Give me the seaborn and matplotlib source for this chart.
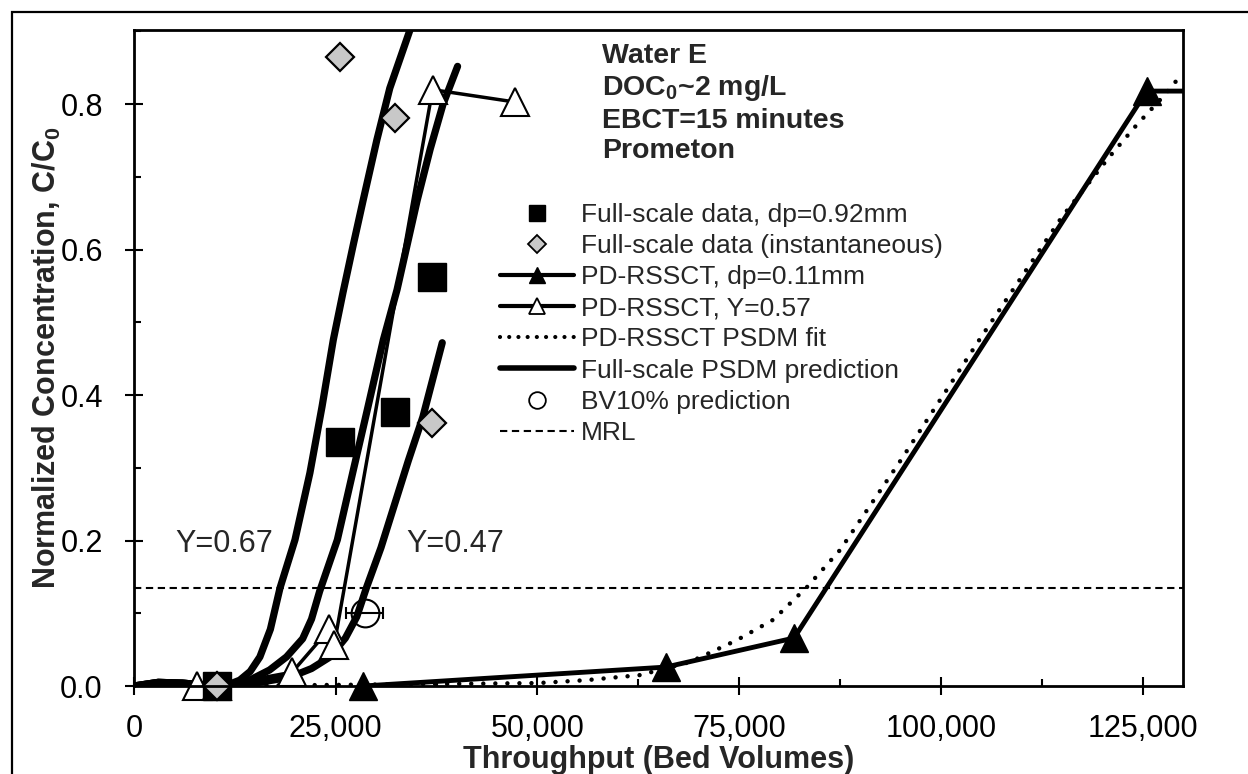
import numpy as np
import pandas as pd
import matplotlib
matplotlib.use("Agg")
import matplotlib.pyplot as plt
import seaborn as sns
from matplotlib.lines import Line2D
from matplotlib.patches import Rectangle
from matplotlib.ticker import FuncFormatter, MultipleLocator

# ---------------- data ----------------
fs_bv = [10300, 25500, 32300, 36900]
fs_c = [0.0, 0.336, 0.377, 0.563]
fs_inst_c = [0.0, 0.865, 0.781, 0.362]

rssct_bv = [28400, 65900, 81800, 125500, 140000]
rssct_c = [0.0, 0.026, 0.066, 0.818, 0.818]

rssct57_bv = [7800, 10300, 19600, 24200, 24800, 37000, 47200]
rssct57_c = [0.0, 0.0, 0.019, 0.078, 0.056, 0.820, 0.803]

fit_bv = [0, 20000, 40000, 50000, 56000, 62700, 68900, 74700, 79200, 83400,
          87500, 95000, 105000, 115000, 120900, 124300, 127500, 130000]
fit_c = [0.0, 0.001, 0.003, 0.004, 0.008, 0.015, 0.033, 0.063, 0.091, 0.136,
         0.187, 0.31, 0.48, 0.645, 0.728, 0.772, 0.81, 0.843]

pred67_bv = [0, 3000, 6000, 9000, 11500, 13100, 14400, 15600, 16900, 18100,
             19950, 21800, 23300, 24700, 25900, 27200, 28400, 30100, 31700, 34200]
pred67_c = [0.0, 0.005, 0.004, 0.001, 0.001, 0.008, 0.020, 0.040, 0.078, 0.135,
            0.201, 0.293, 0.384, 0.476, 0.541, 0.608, 0.668, 0.751, 0.822, 0.902]

pred57_bv = [0, 3000, 6000, 9000, 12000, 14500, 16800, 18900, 20900, 22000,
             23000, 25200, 27100, 29000, 30900, 32600, 35100, 36700, 38300, 40100]
pred57_c = [0.0, 0.005, 0.004, 0.001, 0.002, 0.009, 0.022, 0.040, 0.065, 0.092,
            0.130, 0.201, 0.293, 0.384, 0.476, 0.545, 0.668, 0.738, 0.800, 0.852]

pred47_bv = [0, 3000, 6000, 9000, 12000, 15000, 19300, 22000, 24300, 26200,
             27600, 28800, 30600, 32300, 34000, 35800, 38200]
pred47_c = [0.0, 0.005, 0.004, 0.001, 0.002, 0.004, 0.012, 0.024, 0.040, 0.066,
            0.095, 0.135, 0.190, 0.250, 0.310, 0.370, 0.472]

bv10_bv = [28600]
bv10_c = [0.100]
bv10_err = [2300]

mrl = 0.135

legend_labels = ["Full-scale data, dp=0.92mm", "Full-scale data (instantaneous)",
                 "PD-RSSCT, dp=0.11mm", "PD-RSSCT, Y=0.57", "PD-RSSCT PSDM fit",
                 "Full-scale PSDM prediction", "BV10% prediction", "MRL"]

# ---------------- style ----------------
sns.set_theme(style="ticks")
plt.rcParams["font.family"] = ["Liberation Sans", "DejaVu Sans"]
plt.rcParams["mathtext.fontset"] = "custom"
plt.rcParams["mathtext.rm"] = "Liberation Sans"
plt.rcParams["mathtext.bf"] = "Liberation Sans:bold"
plt.rcParams["mathtext.it"] = "Liberation Sans:italic"

fig = plt.figure(figsize=(12.48, 7.74), dpi=100)
ax = fig.add_axes([134 / 1248, 1 - 686 / 774, (1183 - 134) / 1248, (686 - 30) / 774])

# outer frame (left & top visible)
fig.add_artist(Rectangle((12 / 1248, -0.2), 1.5, 1.2 - 12 / 774,
                         transform=fig.transFigure, fill=False, lw=1.6,
                         edgecolor="black"))

# MRL
ax.axhline(mrl, color="black", lw=1.5, ls=(0, (3.5, 2.2)), zorder=1)

# PSDM predictions
for bv, c in [(pred67_bv, pred67_c), (pred57_bv, pred57_c), (pred47_bv, pred47_c)]:
    df = pd.DataFrame({"bv": bv, "c": c})
    sns.lineplot(data=df, x="bv", y="c", ax=ax, color="black", lw=5.2,
                 sort=False, estimator=None, solid_capstyle="round",
                 solid_joinstyle="round", zorder=3)

# PD-RSSCT PSDM fit
df_fit = pd.DataFrame({"bv": fit_bv, "c": fit_c})
sns.lineplot(data=df_fit, x="bv", y="c", ax=ax, color="black", lw=3.2,
             ls=(0, (0.01, 2.7)), dash_capstyle="round", sort=False,
             estimator=None, zorder=2)

xmax = 130000

# PD-RSSCT Y=0.57
ax.plot(rssct57_bv, rssct57_c, color="black", lw=2.5, zorder=4,
        solid_capstyle="round", solid_joinstyle="round")
ax.plot(rssct57_bv, rssct57_c, ls="none", marker="^", ms=20, mfc="white",
        mec="black", mew=1.5, zorder=4, clip_on=False)

# PD-RSSCT dp=0.11mm
ax.plot(rssct_bv, rssct_c, color="black", lw=3.5, zorder=4, solid_joinstyle="round")
in_bv = [b for b in rssct_bv if b <= xmax]
in_c = [c for b, c in zip(rssct_bv, rssct_c) if b <= xmax]
ax.plot(in_bv, in_c, ls="none", marker="^", ms=20, mfc="black", mec="black",
        zorder=5, clip_on=False)

# Full-scale data
ax.plot(fs_bv, fs_c, ls="none", marker="s", ms=20, mfc="black", mec="black",
        zorder=6, clip_on=False)
ax.plot(fs_bv, fs_inst_c, ls="none", marker="D", ms=14, mfc="#c8c8c8",
        mec="black", mew=1.6, zorder=7, clip_on=False)

# BV10% prediction
ax.errorbar(bv10_bv, bv10_c, xerr=bv10_err, fmt="o", ms=20, mfc="none",
            mec="black", mew=1.5, ecolor="black", elinewidth=1.5, capsize=4.5,
            capthick=1.5, zorder=8)

# annotations
ax.text(5100, 0.184, "Y=0.67", fontsize=22, ha="left", va="baseline")
ax.text(33800, 0.184, "Y=0.47", fontsize=22, ha="left", va="baseline")

block = ["Water E", r"DOC$_\mathbf{0}$~2 mg/L", "EBCT=15 minutes", "Prometon"]
for txt, yb in zip(block, [63, 95, 128, 158]):
    fig.text(602 / 1248, 1 - yb / 774, txt, fontsize=20.5, fontweight="bold",
             ha="left", va="baseline")

# axes
ax.set_xlim(0, xmax)
ax.set_ylim(0, 0.902)
ax.xaxis.set_major_locator(MultipleLocator(25000))
ax.xaxis.set_minor_locator(MultipleLocator(12500))
ax.yaxis.set_major_locator(MultipleLocator(0.2))
ax.yaxis.set_minor_locator(MultipleLocator(0.1))
ax.xaxis.set_major_formatter(FuncFormatter(lambda v, p: f"{int(round(v)):,}"))
ax.yaxis.set_major_formatter(FuncFormatter(lambda v, p: f"{v:.1f}"))
ax.tick_params(which="major", direction="inout", length=13, width=1.5,
               labelsize=22, color="black", labelcolor="black")
ax.tick_params(axis="y", which="major", pad=16)
ax.tick_params(axis="x", which="major", pad=14)
ax.tick_params(which="minor", direction="in", length=5, width=1.5, color="black")
for s in ax.spines.values():
    s.set_visible(True)
    s.set_linewidth(2)
    s.set_color("black")
    s.set_zorder(10)
ax.set_xlabel("Throughput (Bed Volumes)", fontsize=22, fontweight="bold", labelpad=0.5)
ax.set_ylabel(r"Normalized Concentration, C/C$_\mathbf{0}$", fontsize=22,
              fontweight="bold", labelpad=-2)
ax.set_facecolor("white")
ax.grid(False)

# legend
handles = [
    Line2D([], [], ls="none", marker="s", ms=12, mfc="black", mec="black"),
    Line2D([], [], ls="none", marker="D", ms=9, mfc="#c8c8c8", mec="black", mew=1.3),
    Line2D([], [], color="black", lw=3, marker="^", ms=12, mfc="black", mec="black"),
    Line2D([], [], color="black", lw=3, marker="^", ms=12, mfc="white", mec="black", mew=1.3),
    Line2D([], [], color="black", lw=3, ls=(0, (0.01, 2.2)), dash_capstyle="round"),
    Line2D([], [], color="black", lw=4),
    Line2D([], [], ls="none", marker="o", ms=12, mfc="none", mec="black", mew=1.3),
    Line2D([], [], color="black", lw=1.5, ls=(0, (3.5, 2.2))),
]
ax.legend(handles, legend_labels, loc="upper left",
          bbox_to_anchor=(500 / 1248, 1 - 203 / 774), bbox_transform=fig.transFigure,
          frameon=False, borderpad=0, borderaxespad=0, handlelength=2.8,
          handletextpad=0.27, labelspacing=0.27, fontsize=19)

fig.savefig("out.png", dpi=100, facecolor="white")
